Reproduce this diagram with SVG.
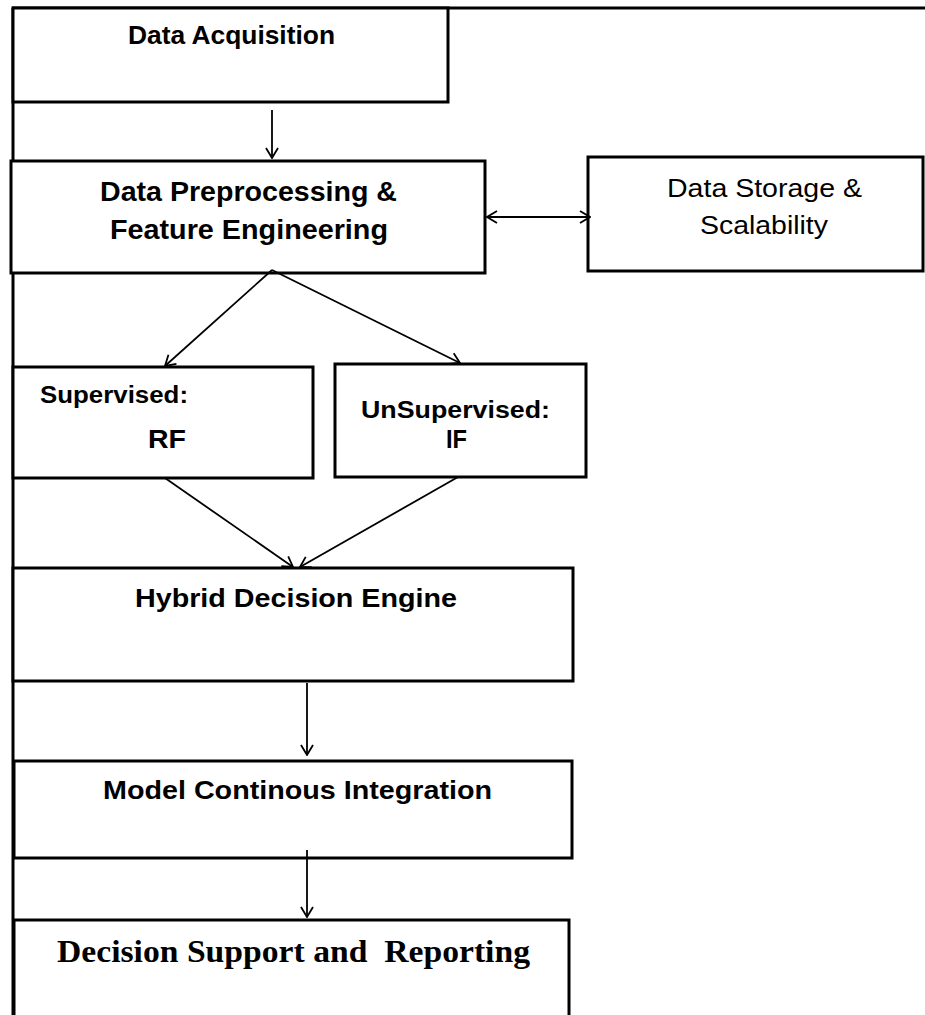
<svg xmlns="http://www.w3.org/2000/svg" width="925" height="1015" viewBox="0 0 925 1015">
  <defs>
    <marker id="ah" viewBox="0 0 12 14" refX="11" refY="7" markerWidth="12" markerHeight="14" markerUnits="userSpaceOnUse" orient="auto-start-reverse">
      <path d="M1,1 L11,7 L1,13" fill="none" stroke="#000" stroke-width="1.8"/>
    </marker>
    <style>
      .box{fill:#fff;stroke:#000;stroke-width:3}
      .frame{stroke:#000;stroke-width:3;fill:none}
      .conn{stroke:#000;stroke-width:1.8;fill:none}
      .b{font-family:"Liberation Sans",Arial,sans-serif;font-weight:bold;fill:#000}
      .r{font-family:"Liberation Sans",Arial,sans-serif;font-weight:normal;fill:#000}
      .s{font-family:"Liberation Serif","Times New Roman",serif;font-weight:bold;fill:#000}
    </style>
  </defs>
  <rect width="925" height="1015" fill="#fff"/>
  <g id="frame">
    <line class="frame" x1="12" y1="8" x2="925" y2="8"/>
    <line class="frame" x1="13" y1="8" x2="13" y2="1015"/>
  </g>
  <g id="acquisition">
    <rect class="box" x="13" y="8" width="435" height="94"/>
    <text class="b" x="128" y="44" font-size="25" textLength="207" lengthAdjust="spacingAndGlyphs">Data Acquisition</text>
  </g>
  <g id="preprocessing">
    <rect class="box" x="11" y="161" width="474" height="112"/>
    <text class="b" x="100" y="201" font-size="27" textLength="297" lengthAdjust="spacingAndGlyphs">Data Preprocessing &amp;</text>
    <text class="b" x="110" y="239" font-size="27" textLength="278" lengthAdjust="spacingAndGlyphs">Feature Engineering</text>
  </g>
  <g id="storage">
    <rect class="box" x="588" y="157" width="335" height="114"/>
    <text class="r" x="667" y="197" font-size="26" textLength="195" lengthAdjust="spacingAndGlyphs">Data Storage &amp;</text>
    <text class="r" x="700" y="234" font-size="26" textLength="128" lengthAdjust="spacingAndGlyphs">Scalability</text>
  </g>
  <g id="supervised">
    <rect class="box" x="13" y="367" width="300" height="111"/>
    <text class="b" x="40" y="403" font-size="23" textLength="148" lengthAdjust="spacingAndGlyphs">Supervised:</text>
    <text class="b" x="148" y="448" font-size="25" textLength="38" lengthAdjust="spacingAndGlyphs">RF</text>
  </g>
  <g id="unsupervised">
    <rect class="box" x="335" y="364" width="251" height="113"/>
    <text class="b" x="361" y="418" font-size="23" textLength="189" lengthAdjust="spacingAndGlyphs">UnSupervised:</text>
    <text class="b" x="446" y="448" font-size="25" textLength="21" lengthAdjust="spacingAndGlyphs">IF</text>
  </g>
  <g id="hybrid">
    <rect class="box" x="13" y="568" width="560" height="113"/>
    <text class="b" x="135" y="607" font-size="25" textLength="322" lengthAdjust="spacingAndGlyphs">Hybrid Decision Engine</text>
  </g>
  <g id="model">
    <rect class="box" x="14" y="761" width="558" height="97"/>
    <text class="b" x="103" y="799" font-size="25" textLength="389" lengthAdjust="spacingAndGlyphs">Model Continous Integration</text>
  </g>
  <g id="decision">
    <rect class="box" x="14" y="920" width="555" height="110"/>
    <text class="s" x="57" y="962" font-size="31" textLength="473" lengthAdjust="spacingAndGlyphs" xml:space="preserve">Decision Support and  Reporting</text>
  </g>
  <g id="connectors">
    <line class="conn" x1="272" y1="110" x2="272" y2="158" marker-end="url(#ah)"/>
    <line class="conn" x1="487" y1="217" x2="590" y2="217" marker-start="url(#ah)" marker-end="url(#ah)"/>
    <line class="conn" x1="272" y1="270" x2="165" y2="366" marker-end="url(#ah)"/>
    <line class="conn" x1="272" y1="270" x2="460" y2="363" marker-end="url(#ah)"/>
    <line class="conn" x1="165" y1="478" x2="293" y2="567" marker-end="url(#ah)"/>
    <line class="conn" x1="458" y1="477" x2="300" y2="567" marker-end="url(#ah)"/>
    <line class="conn" x1="307" y1="683" x2="307" y2="755" marker-end="url(#ah)"/>
    <line class="conn" x1="307" y1="850" x2="307" y2="917" marker-end="url(#ah)"/>
  </g>
</svg>
